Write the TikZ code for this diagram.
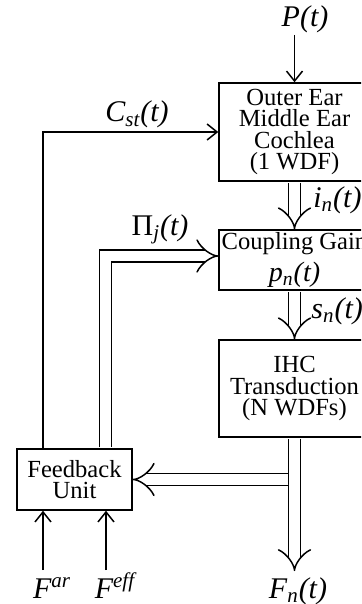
\documentclass[tikz,border=0pt]{standalone}
\usepackage{fontspec}
\setmainfont{Liberation Serif}
\usetikzlibrary{arrows.meta}

\begin{document}
\begin{tikzpicture}[x=0.5pt,y=-0.5pt,
	every node/.style={font=\fontsize{12.3}{10.8}\selectfont},
	block/.style={draw,line width=0.75pt,inner sep=0pt,align=center},
	sig/.style={font=\fontsize{15}{16}\selectfont\itshape,inner sep=0pt,anchor=base},
	wire/.style={line width=0.75pt,-{Straight Barb[length=5pt,width=8pt]}},
	bus/.style={line width=0.75pt,double,double distance=5.25pt,shorten <=0.4pt,-{Implies}}]
	\useasboundingbox (0,0) rectangle (361,604);
	\clip (0,0) rectangle (361,604);

	% blocks
	\node[block,minimum width=75.5pt,minimum height=49pt] (outer) at (294.5,132) {Outer Ear\\Middle Ear\\Cochlea\\(1 WDF)};
	\node[block,minimum width=75.5pt,minimum height=30pt] (cg) at (294.5,260) {Coupling Gain\\[2.5pt]{\fontsize{14}{16}\selectfont\itshape p\textsubscript{n}(t)}};
	\node[block,minimum width=75.5pt,minimum height=48.5pt] (ihc) at (294.5,388.5) {IHC\\Transduction\\(N WDFs)};
	\node[block,minimum width=57.5pt,minimum height=30.5pt] (fb) at (74.5,479.5) {Feedback\\Unit};

	% signal names
	\node[sig] (p) at (305,27) {P(t)};
	\node[sig] (cst) at (137,122) {C\textsubscript{st}(t)};
	\node[sig] (pij) at (160,235) {\upshape Π\textsubscript{\itshape j}\itshape(t)};
	\node[sig,anchor=base west] (in) at (313,207) {i\textsubscript{n}(t)};
	\node[sig,anchor=base west] (sn) at (311,318) {s\textsubscript{n}(t)};
	\node[sig] (fn) at (298,598) {F\textsubscript{n}(t)};
	\node[sig] (far) at (52,598) {F\textsuperscript{ar}};
	\node[sig] (feff) at (115,598) {F\textsuperscript{eff}};

	\coordinate (pin) at (294.5,35);
	\coordinate (fnend) at (294.5,571);
	\coordinate (arin) at (43,570);
	\coordinate (effin) at (106,570);
	\coordinate (jn) at (289.25,479.5);
	\coordinate (cstup) at (43,132);
	\coordinate (pibus) at (105.5,256);

	% connections
	\draw[wire] (pin) -- (outer.north);
	\draw[wire] (fb.north -| cstup) |- (outer.west);
	\draw[bus] (fb.north -| pibus) |- (cg.west |- pibus);
	\draw[bus] (outer.south) -- (cg.north);
	\draw[bus] (cg.south) -- (ihc.north);
	\draw[bus] (ihc.south) -- (fnend);
	\draw[bus] (jn) -- (fb.east |- jn);
	\draw[wire] (arin) -- (arin |- fb.south);
	\draw[wire] (effin) -- (effin |- fb.south);
\end{tikzpicture}
\end{document}
